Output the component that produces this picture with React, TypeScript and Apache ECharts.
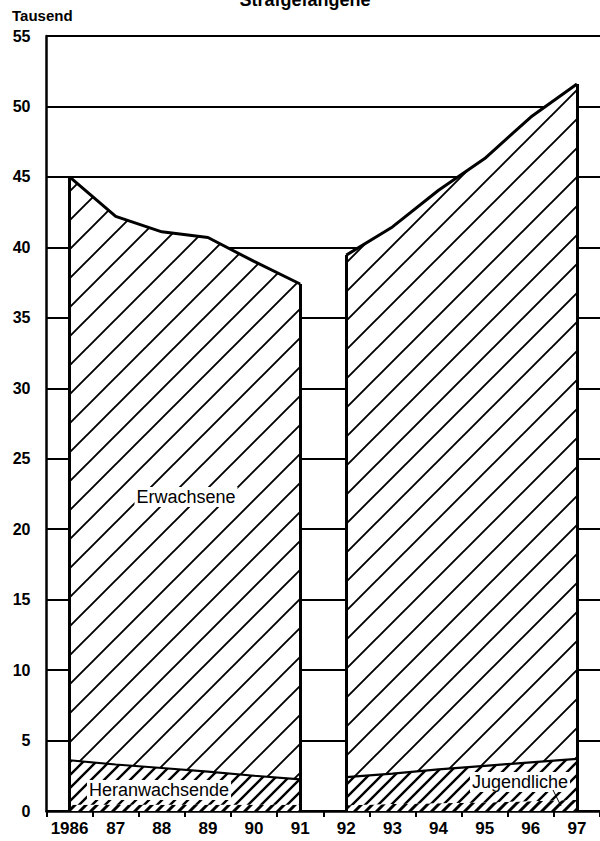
import React, { useEffect, useRef } from "react";
import * as echarts from "echarts";

const years = ["1986", "87", "88", "89", "90", "91", "92", "93", "94", "95", "96", "97"];
const yTicks = [0, 5, 10, 15, 20, 25, 30, 35, 40, 45, 50, 55];

// 1986–1991 (left block)
const jugendlicheL = [0.45, 0.45, 0.45, 0.45, 0.45, 0.45];
const heranwachsendeL = [3.15, 2.85, 2.6, 2.35, 2.05, 1.8];
const erwachseneL = [41.4, 38.9, 38.05, 37.9, 36.5, 35.15];

// 1992–1997 (right block)
const jugendlicheR = [0.4, 0.5, 0.55, 0.6, 0.7, 0.8];
const heranwachsendeR = [2.0, 2.15, 2.4, 2.6, 2.75, 2.9];
const erwachseneR = [37.05, 38.8, 41.1, 43.1, 45.8, 47.9];

const FONT = "'Liberation Sans', Arial, Helvetica, sans-serif";

function hatch(period: number, width: number) {
  const c = document.createElement("canvas");
  c.width = period;
  c.height = period;
  const ctx = c.getContext("2d")!;
  ctx.fillStyle = "#fff";
  ctx.fillRect(0, 0, period, period);
  ctx.strokeStyle = "#000";
  ctx.lineWidth = width;
  ctx.beginPath();
  for (const k of [0, 1, 2]) {
    ctx.moveTo(-period, k * period + period);
    ctx.lineTo(k * period + period, -period);
  }
  ctx.stroke();
  return { image: c, repeat: "repeat", imageWidth: period, imageHeight: period } as any;
}

export default function App() {
  const ref = useRef<HTMLDivElement>(null);
  useEffect(() => {
    if (!ref.current) return;
    const chart = echarts.init(ref.current, undefined, { renderer: "svg" });
    const patE = hatch(29, 1.9);
    const patH = hatch(13, 2.4);
    const patJ = hatch(11, 3);

    const pad = (a: number[], left: boolean) =>
      left ? [...a, ...a.map(() => "-")] : [...a.map(() => "-"), ...a];

    const totalL = erwachseneL.map((v, i) => v + heranwachsendeL[i] + jugendlicheL[i]);
    const totalR = erwachseneR.map((v, i) => v + heranwachsendeR[i] + jugendlicheR[i]);
    const last = erwachseneL.length - 1;

    const edge = (cat: string, top: number) => [
      { coord: [cat, 0] },
      { coord: [cat, top] },
    ];

    const mk = (
      name: string,
      stack: string,
      data: any[],
      pat: any,
      lw: number,
      edges?: any[]
    ) => ({
      name,
      type: "line",
      stack,
      data,
      symbol: "none",
      lineStyle: { color: "#000", width: lw },
      areaStyle: { color: pat, opacity: 1 },
      z: 3,
      markLine: edges
        ? {
            silent: true,
            symbol: ["none", "none"],
            label: { show: false },
            lineStyle: { color: "#000", width: 3, type: "solid" },
            data: edges,
          }
        : undefined,
    });

    const label = (text: string, x: number, y: number) => ({
      type: "text",
      x,
      y,
      style: {
        text,
        align: "center",
        verticalAlign: "middle",
        fontFamily: FONT,
        fontSize: 18,
        fill: "#000",
        backgroundColor: "#fff",
        padding: [1, 2],
      },
      z: 10,
    });

    chart.setOption({
      animation: false,
      backgroundColor: "#fff",
      grid: { left: 46.5, right: -10.5, top: 36, bottom: 30 },
      xAxis: {
        type: "category",
        data: years,
        boundaryGap: true,
        axisLine: { show: true, lineStyle: { color: "#000", width: 2.5 } },
        axisTick: { show: true, length: 6, lineStyle: { color: "#000", width: 2 } },
        axisLabel: {
          interval: 0,
          color: "#000",
          fontFamily: FONT,
          fontWeight: "bold",
          fontSize: 17,
          margin: 9,
        },
        splitLine: { show: false },
      },
      yAxis: {
        type: "value",
        min: yTicks[0],
        max: yTicks[yTicks.length - 1],
        interval: yTicks[1] - yTicks[0],
        axisLine: { show: true, lineStyle: { color: "#000", width: 2.5 } },
        axisTick: { show: false },
        axisLabel: {
          color: "#000",
          fontFamily: FONT,
          fontWeight: "bold",
          fontSize: 16,
          margin: 16,
        },
        splitLine: { show: true, lineStyle: { color: "#000", width: 2 } },
      },
      series: [
        mk("JugendlicheL", "L", pad(jugendlicheL, true), patJ, 0),
        mk("HeranwachsendeL", "L", pad(heranwachsendeL, true), patH, 2.2),
        mk("ErwachseneL", "L", pad(erwachseneL, true), patE, 3, [
          edge(years[0], totalL[0]),
          edge(years[last], totalL[last]),
        ]),
        mk("JugendlicheR", "R", pad(jugendlicheR, false), patJ, 0),
        mk("HeranwachsendeR", "R", pad(heranwachsendeR, false), patH, 2.2),
        mk("ErwachseneR", "R", pad(erwachseneR, false), patE, 3, [
          edge(years[last + 1], totalR[0]),
          edge(years[years.length - 1], totalR[last]),
        ]),
      ],
      graphic: [
        {
          type: "text",
          x: 305,
          y: -9,
          style: {
            text: "Strafgefangene",
            align: "center",
            fontFamily: FONT,
            fontWeight: "bold",
            fontSize: 18,
            fill: "#000",
          },
          z: 10,
        },
        {
          type: "text",
          left: 12,
          top: 8,
          style: {
            text: "Tausend",
            fontFamily: FONT,
            fontWeight: "bold",
            fontSize: 15,
            fill: "#000",
          },
          z: 10,
        },
        label("Erwachsene", 186, 497),
        label("Heranwachsende", 159, 790),
        {
          type: "line",
          shape: { x1: 553, y1: 790, x2: 561, y2: 806 },
          style: { stroke: "#000", lineWidth: 1 },
          z: 11,
        },
        label("Jugendliche", 520, 782),
      ],
    });
    return () => chart.dispose();
  }, []);
  return (
    <div
      ref={ref}
      style={{ position: "absolute", left: 0, top: 0, width: 600, height: 841, background: "#fff" }}
    />
  );
}
